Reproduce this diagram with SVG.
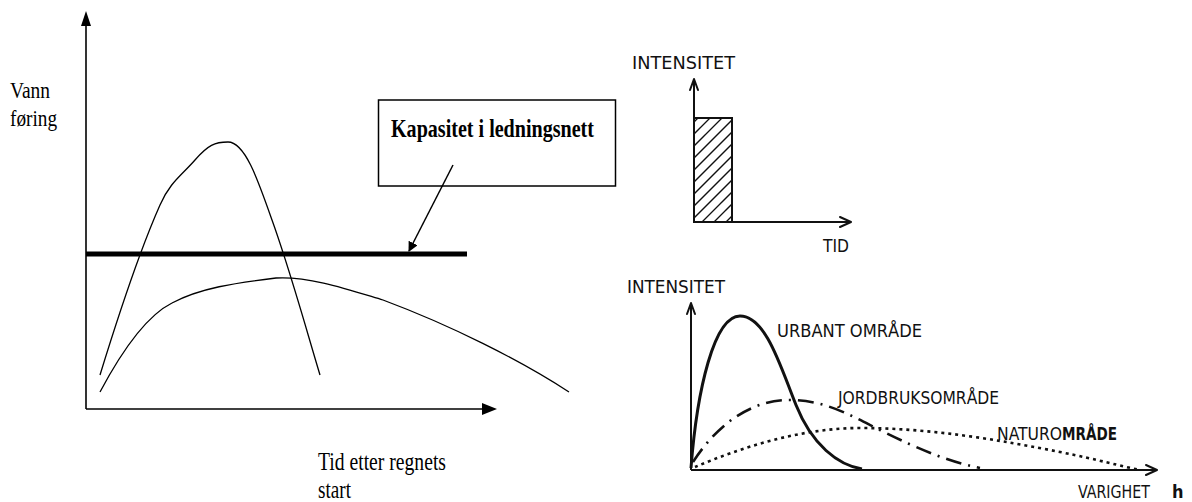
<svg xmlns="http://www.w3.org/2000/svg" width="1192" height="502" viewBox="0 0 1192 502">
<style>
.ser{font-family:"Liberation Serif","Times New Roman",serif;fill:#000}
.tech{font-family:"DejaVu Sans Condensed","DejaVu Sans",sans-serif;fill:#111}
.ax{stroke:#000;stroke-width:1.6;fill:none}
.ax2{stroke:#111;stroke-width:2;fill:none}
.crv{stroke:#000;stroke-width:1.3;fill:none}
.open{stroke:#111;stroke-width:2;fill:none;stroke-linecap:round;stroke-linejoin:round}
</style>
<defs>
<marker id="fillArrow" markerWidth="10" markerHeight="10" refX="9" refY="5" orient="auto" markerUnits="userSpaceOnUse" viewBox="0 0 10 10">
<path d="M0,0 L10,5 L0,10 Z" fill="#000"/>
</marker>
<clipPath id="hatchClip"><rect x="694" y="118" width="38" height="104"/></clipPath>
</defs>
<rect width="1192" height="502" fill="#fff"/>

<g id="left-chart">
<g id="left-axes">
<line class="ax" x1="86" y1="409" x2="86" y2="24"/>
<path d="M81,26 L86,11 L91,26 Z" fill="#000"/>
<line class="ax" x1="86" y1="409" x2="484" y2="409"/>
<path d="M482,403 L497,409 L482,415 Z" fill="#000"/>
</g>
<g id="curves-left">
<path class="crv" d="M100,375 C120,310 140,250 160,205 C170,182 182,175 195,160 C208,145 215,142 228,142 C245,142 258,180 272,220 C290,270 305,325 320,375"/>
<path class="crv" d="M100,392 C125,345 148,315 172,303 C200,288 235,283 276,278 C310,276 350,290 383,300 C450,325 520,360 569,392"/>
</g>
<g id="capacity-line">
<line x1="86" y1="254" x2="467" y2="254" stroke="#000" stroke-width="5"/>
</g>
<g id="capacity-box">
<rect x="378.5" y="100" width="237" height="86" fill="#fff" stroke="#000" stroke-width="1.5"/>
<text class="ser" x="391" y="137" font-size="26" font-weight="bold" textLength="203" lengthAdjust="spacingAndGlyphs">Kapasitet i ledningsnett</text>
</g>
<g id="connectors">
<line x1="453" y1="165" x2="409" y2="251" stroke="#000" stroke-width="1.5" marker-end="url(#fillArrow)"/>
</g>
<text class="ser" x="10" y="98" font-size="24" textLength="40" lengthAdjust="spacingAndGlyphs">Vann</text>
<text class="ser" x="10" y="126" font-size="24" textLength="47" lengthAdjust="spacingAndGlyphs">føring</text>
<text class="ser" x="318" y="470" font-size="26" textLength="128" lengthAdjust="spacingAndGlyphs">Tid etter regnets</text>
<text class="ser" x="318" y="498" font-size="26" textLength="33" lengthAdjust="spacingAndGlyphs">start</text>
</g>

<g id="rain-chart">
<text class="tech" x="632" y="69" font-size="18" textLength="103" lengthAdjust="spacingAndGlyphs">INTENSITET</text>
<rect x="694" y="118" width="38" height="104" fill="#fff" stroke="#111" stroke-width="2"/>
<g clip-path="url(#hatchClip)" stroke="#111" stroke-width="1.3">
<line x1="690" y1="126" x2="740" y2="76"/>
<line x1="690" y1="138" x2="740" y2="88"/>
<line x1="690" y1="150" x2="740" y2="100"/>
<line x1="690" y1="162" x2="740" y2="112"/>
<line x1="690" y1="174" x2="740" y2="124"/>
<line x1="690" y1="186" x2="740" y2="136"/>
<line x1="690" y1="198" x2="740" y2="148"/>
<line x1="690" y1="210" x2="740" y2="160"/>
<line x1="690" y1="222" x2="740" y2="172"/>
<line x1="690" y1="234" x2="740" y2="184"/>
<line x1="690" y1="246" x2="740" y2="196"/>
<line x1="690" y1="258" x2="740" y2="208"/>
<line x1="690" y1="270" x2="740" y2="220"/>
</g>
<line class="ax2" x1="694" y1="222" x2="694" y2="79"/>
<path class="open" d="M690,90 L694,79 L698,90"/>
<line class="ax2" x1="694" y1="222" x2="851" y2="222"/>
<path class="open" d="M840,217 L851,222 L840,227"/>
<text class="tech" x="823" y="252" font-size="18" textLength="26" lengthAdjust="spacingAndGlyphs">TID</text>
</g>

<g id="runoff-chart">
<text class="tech" x="627" y="293" font-size="18" textLength="98" lengthAdjust="spacingAndGlyphs">INTENSITET</text>
<line class="ax2" x1="691" y1="470" x2="691" y2="303"/>
<path class="open" d="M687,314 L691,303 L695,314"/>
<line class="ax2" x1="691" y1="470" x2="1157" y2="470"/>
<path class="open" d="M1146,465 L1157,470 L1146,475"/>
<path d="M691,468 C697,390 714,316 740,316 C766,316 781,368 796,405 C812,445 838,465 862,469" fill="none" stroke="#111" stroke-width="3"/>
<path d="M693,462 C720,420 755,400 789,400 C825,400 850,415 880,430 C920,450 950,462 980,468" fill="none" stroke="#111" stroke-width="2.6" stroke-dasharray="16,7,2,7"/>
<path d="M695,467 C740,448 800,428 860,428 C930,428 1000,440 1060,452 C1100,460 1120,466 1140,470" fill="none" stroke="#111" stroke-width="2.6" stroke-dasharray="3,4"/>
<text class="tech" x="777" y="337" font-size="18" textLength="145" lengthAdjust="spacingAndGlyphs">URBANT  OMRÅDE</text>
<text class="tech" x="838" y="404" font-size="18" textLength="161" lengthAdjust="spacingAndGlyphs">JORDBRUKSOMRÅDE</text>
<text class="tech" x="997" y="440" font-size="18" textLength="65" lengthAdjust="spacingAndGlyphs">NATURO</text>
<text class="tech" x="1062" y="440" font-size="18" font-weight="bold" textLength="55" lengthAdjust="spacingAndGlyphs">MRÅDE</text>
<text class="tech" x="1078" y="498" font-size="18" textLength="72" lengthAdjust="spacingAndGlyphs">VARIGHET</text>
<text class="tech" x="1172" y="498" font-size="18" font-weight="bold">h</text>
</g>
</svg>
